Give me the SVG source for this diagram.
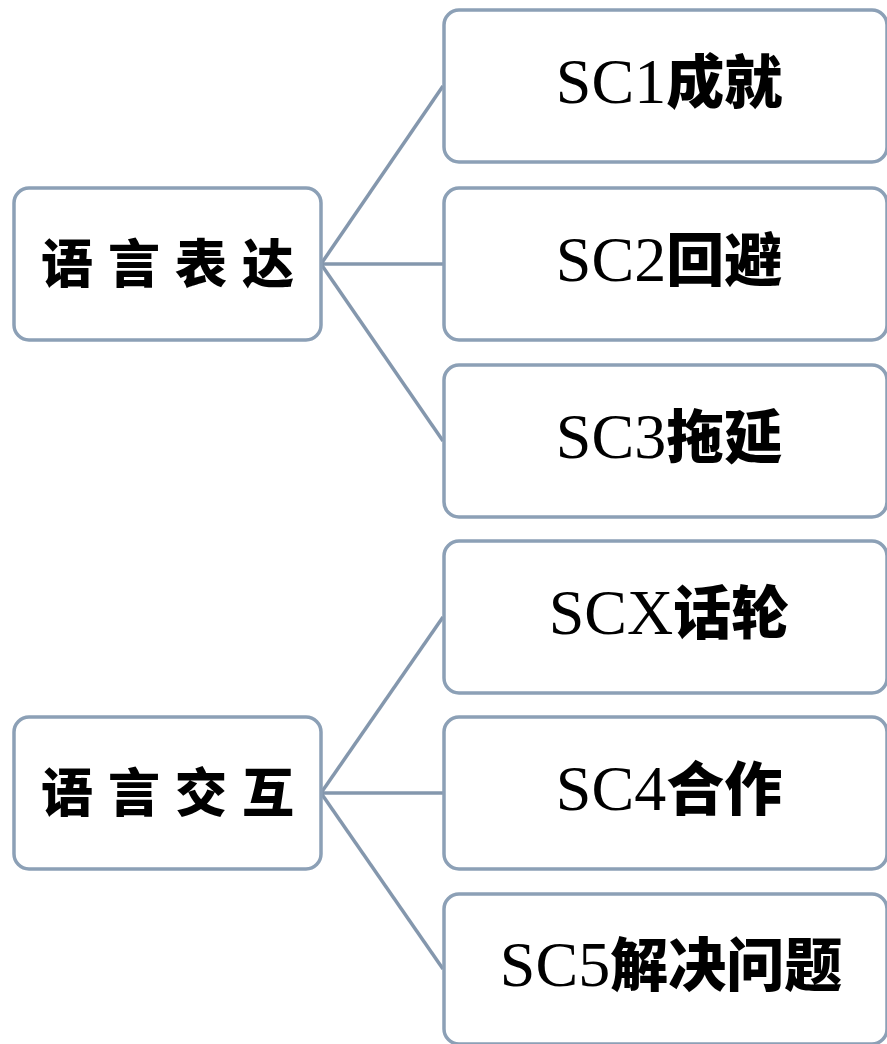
<svg xmlns="http://www.w3.org/2000/svg" width="887" height="1044" viewBox="0 0 887 1044">
<style>
.box{fill:#ffffff;stroke:#8ca0b6;stroke-width:3.5}
.con{stroke:#8497ad;stroke-width:3.5;fill:none}
.lt{font-family:"Noto Sans CJK SC",sans-serif;font-weight:900;font-size:52px;letter-spacing:15px;fill:#000;text-anchor:middle}
.rt{font-family:"Liberation Serif","Noto Sans CJK SC",serif;font-size:64px;fill:#000;text-anchor:middle}
.cj{font-family:"Noto Sans CJK SC",sans-serif;font-weight:900;font-size:58px}
</style>
<rect width="887" height="1044" fill="#ffffff"/>
<g id="connectors">
<line class="con" x1="321" y1="264" x2="443" y2="86"/>
<line class="con" x1="321" y1="264" x2="443" y2="264"/>
<line class="con" x1="321" y1="264" x2="443" y2="441"/>
<line class="con" x1="321" y1="793" x2="443" y2="617"/>
<line class="con" x1="321" y1="793" x2="443" y2="793"/>
<line class="con" x1="321" y1="793" x2="443" y2="969"/>
</g>
<g id="n-expr"><rect class="box" x="14" y="188" width="307" height="152" rx="15"/><text class="lt" x="175" y="283">语言表达</text></g>
<g id="n-inter"><rect class="box" x="14" y="717" width="307" height="152" rx="15"/><text class="lt" x="175" y="812">语言交互</text></g>
<g id="n-sc1"><rect class="box" x="444" y="10" width="443" height="152" rx="15"/><text class="rt" x="669" y="103">SC1<tspan class="cj">成就</tspan></text></g>
<g id="n-sc2"><rect class="box" x="444" y="188" width="443" height="152" rx="15"/><text class="rt" x="669" y="281">SC2<tspan class="cj">回避</tspan></text></g>
<g id="n-sc3"><rect class="box" x="444" y="365" width="443" height="152" rx="15"/><text class="rt" x="669" y="458">SC3<tspan class="cj">拖延</tspan></text></g>
<g id="n-scx"><rect class="box" x="444" y="541" width="443" height="152" rx="15"/><text class="rt" x="669" y="634">SCX<tspan class="cj">话轮</tspan></text></g>
<g id="n-sc4"><rect class="box" x="444" y="717" width="443" height="152" rx="15"/><text class="rt" x="669" y="810">SC4<tspan class="cj">合作</tspan></text></g>
<g id="n-sc5"><rect class="box" x="444" y="894" width="443" height="150" rx="15"/><text class="rt" x="671" y="986">SC5<tspan class="cj">解决问题</tspan></text></g>
</svg>
